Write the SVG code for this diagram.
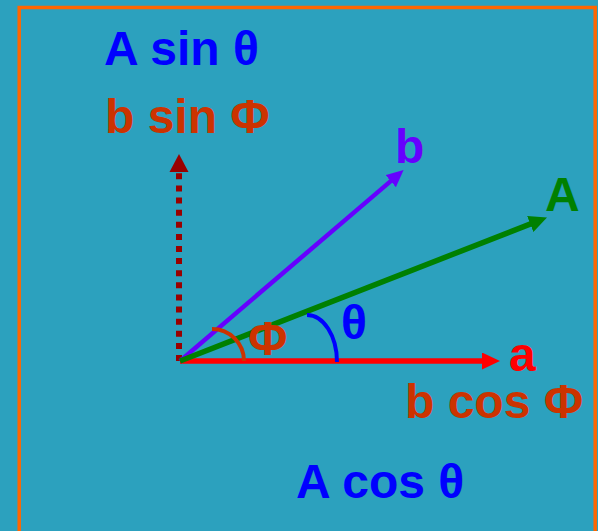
<svg xmlns="http://www.w3.org/2000/svg" width="598" height="531" viewBox="0 0 598 531">
  <style>
    .t { font-family: "Liberation Sans", Arial, sans-serif; font-weight: bold; font-size: 48px; }
    .blue { fill: #0000FF; }
    .rust { fill: #CC3300; }
    .purple { fill: #6600FF; }
    .green { fill: #008000; }
    .red { fill: #FF0000; }
  </style>
  <defs>
    <marker id="hRed" markerUnits="userSpaceOnUse" viewBox="0 0 18 17" refX="6" refY="8.5" markerWidth="18" markerHeight="17" orient="auto">
      <polygon points="0,0 18,8.5 0,17" fill="#FF0000"/>
    </marker>
    <marker id="hGreen" markerUnits="userSpaceOnUse" viewBox="0 0 18 17" refX="8" refY="8.5" markerWidth="18" markerHeight="17" orient="auto">
      <polygon points="0,0 18,8.5 0,17" fill="#008000"/>
    </marker>
    <marker id="hPurple" markerUnits="userSpaceOnUse" viewBox="0 0 17 16" refX="7" refY="8" markerWidth="17" markerHeight="16" orient="auto">
      <polygon points="0,0 17,8 0,16" fill="#6600FF"/>
    </marker>
  </defs>
  <rect x="0" y="0" width="598" height="531" fill="#2CA1BE"/>
  <rect x="19.2" y="7.5" width="576" height="540" fill="none" stroke="#FF6600" stroke-width="3.5"/>

  <g id="connectors">
    <line x1="179" y1="361" x2="179" y2="173.3" stroke="#990000" stroke-width="6" stroke-dasharray="6 6.11"/>
    <polygon points="179,154 188.5,172 169.5,172" fill="#990000"/>
    <line x1="180" y1="361" x2="396" y2="176.6" stroke="#6600FF" stroke-width="4.5" marker-end="url(#hPurple)"/>
    <line x1="180" y1="361" x2="488" y2="361" stroke="#FF0000" stroke-width="5.5" marker-end="url(#hRed)"/>
    <line x1="180" y1="361" x2="537.7" y2="221.1" stroke="#008000" stroke-width="5.5" marker-end="url(#hGreen)"/>
    <path d="M212,329 A32,32 0 0 1 244,361" fill="none" stroke="#CC3300" stroke-width="4"/>
    <path d="M307,315 A30,47 0 0 1 337,362" fill="none" stroke="#0000FF" stroke-width="4"/>
  </g>

  <g id="label-asin"><text class="t blue" x="104" y="65">A sin θ</text></g>
  <g id="label-bsin"><text class="t rust" x="105" y="133">b sin Φ</text></g>
  <g id="label-b"><text class="t purple" x="395" y="163">b</text></g>
  <g id="label-A"><text class="t green" x="545" y="211">A</text></g>
  <g id="label-a"><text class="t red" x="509" y="371">a</text></g>
  <g id="label-bcos"><text class="t rust" x="405" y="418">b cos Φ</text></g>
  <g id="label-acos"><text class="t blue" x="296" y="498">A cos θ</text></g>
  <g id="label-theta"><text class="t blue" x="341" y="339">θ</text></g>
  <g id="label-phi"><text class="t rust" x="248" y="355">Φ</text></g>
</svg>
